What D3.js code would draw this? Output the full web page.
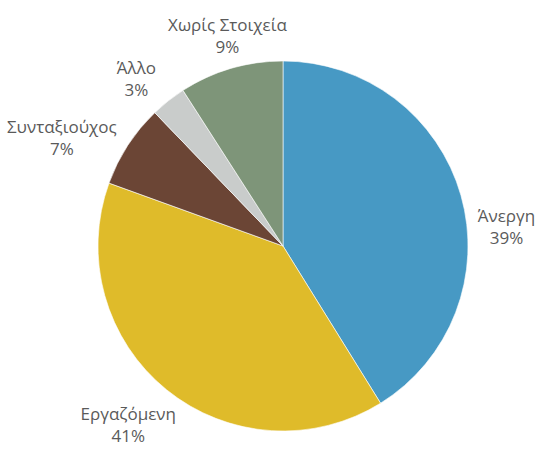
<!DOCTYPE html>
<html>
<head>
<meta charset="utf-8">
<script src="https://cdn.jsdelivr.net/npm/d3@7"></script>
<style>
  html, body { margin: 0; padding: 0; background: #ffffff; }
  svg { display: block; }
</style>
</head>
<body>
<svg id="chart" width="543" height="462"></svg>
<script>
// ---- data ----
const categories = ["Άνεργη", "Εργαζόμενη", "Συνταξιούχος", "Άλλο", "Χωρίς Στοιχεία"];
const values = [41.2, 39.4, 7.3, 3.1, 9.1];          // slice sizes as drawn
const percentLabels = ["39%", "41%", "7%", "3%", "9%"]; // label text as printed
const colors = ["#4799c4", "#dfbb2a", "#6b4535", "#c9cccb", "#7e9579"];

// ---- layout ----
const width = 543, height = 462;
const cx = 283, cy = 246, radius = 185;
const labelRadius = radius * 1.2;
const labelNudge = [[10, 43], [-15, 8], [-35, 14], [-9, 9], [7, 4]];
const lineGap = 22;

const svg = d3.select("#chart");
const g = svg.append("g").attr("transform", `translate(${cx},${cy})`);

const pie = d3.pie().sort(null).value(d => d.value);
const data = categories.map((c, i) => ({ cat: c, value: values[i], pct: percentLabels[i], color: colors[i], i }));
const arcs = pie(data);

const arc = d3.arc().innerRadius(0).outerRadius(radius);
const labelArc = d3.arc().innerRadius(labelRadius).outerRadius(labelRadius);

g.selectAll("path.slice")
  .data(arcs)
  .enter().append("path")
  .attr("class", "slice")
  .attr("d", arc)
  .attr("fill", d => d.data.color)
  .attr("stroke", "#ffffff")
  .attr("stroke-width", 0.6);

const labels = g.selectAll("g.label")
  .data(arcs)
  .enter().append("g")
  .attr("class", "label")
  .attr("transform", d => {
    const [x, y] = labelArc.centroid(d);
    const n = labelNudge[d.data.i];
    return `translate(${x + n[0]},${y + n[1]})`;
  });

labels.append("text")
  .attr("text-anchor", "middle")
  .attr("dominant-baseline", "middle")
  .attr("y", -lineGap / 2)
  .attr("font-family", "'Open Sans', 'Noto Sans', sans-serif")
  .attr("font-size", 17)
  .attr("fill", "#5a5a5a")
  .text(d => d.data.cat);

labels.append("text")
  .attr("text-anchor", "middle")
  .attr("dominant-baseline", "middle")
  .attr("y", lineGap / 2)
  .attr("font-family", "'Open Sans', 'Noto Sans', sans-serif")
  .attr("font-size", 17)
  .attr("fill", "#5a5a5a")
  .text(d => d.data.pct);
</script>
</body>
</html>
